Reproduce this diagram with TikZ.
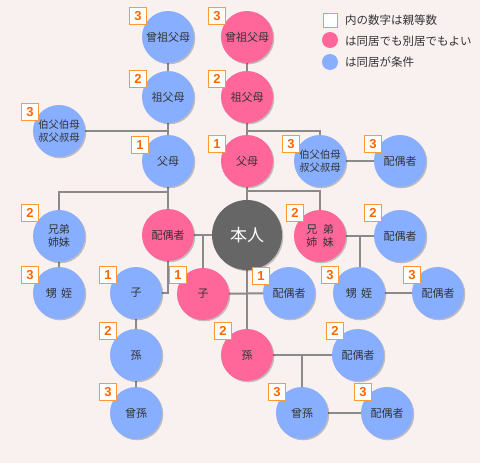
\documentclass[tikz,border=0pt]{standalone}
\usepackage{fontspec}
\newfontfamily\jp{Noto Sans CJK JP}
\newfontfamily\numfont{Liberation Sans}
\usetikzlibrary{shadows}
\definecolor{bgc}{HTML}{F9F0F0}
\definecolor{pinkc}{HTML}{FF6699}
\definecolor{bluec}{HTML}{88AEFF}
\definecolor{darkc}{HTML}{666666}
\definecolor{linec}{HTML}{8A8A8A}
\definecolor{orangeb}{HTML}{FF9933}
\definecolor{oranget}{HTML}{FF6600}
\definecolor{txtc}{HTML}{333333}
\pgfdeclarelayer{bg}
\pgfdeclarelayer{lines}
\pgfsetlayers{bg,lines,main}
\begin{document}
\begin{tikzpicture}[x=1pt,y=-1pt,
  person/.style={circle, minimum size=52pt, inner sep=0pt, text=txtc,
    font=\jp\fontsize{11}{13}\selectfont, align=center,
    drop shadow={shadow xshift=1.3pt, shadow yshift=-1.3pt, opacity=0.22, fill=black}},
  pk/.style={person, fill=pinkc},
  bl/.style={person, fill=bluec},
  small/.style={font=\jp\fontsize{10.3}{12.5}\selectfont},
  selfnode/.style={person, fill=darkc, minimum size=70pt, text=white,
    font=\jp\fontsize{17}{17}\selectfont},
  badge/.style={draw=orangeb, fill=white, line width=1.3pt, minimum size=17pt,
    inner sep=0pt, text=oranget, font=\numfont\bfseries\fontsize{13}{13}\selectfont},
  conn/.style={draw=linec, line width=2pt},
  legtext/.style={anchor=west, inner sep=0pt, text=txtc, font=\jp\fontsize{11.5}{13}\selectfont},
  legdot/.style={circle, minimum size=16pt, inner sep=0pt}
]
\begin{pgfonlayer}{bg}
\fill[bgc] (0,0) rectangle (480,463);
\end{pgfonlayer}
\useasboundingbox (0,0) rectangle (480,463);

% persons
\node[bl] (bsofu) at (168,37) {曾祖父母};
\node[pk] (psofu) at (247,37) {曾祖父母};
\node[bl] (bsobo) at (168,97) {祖父母};
\node[pk] (psobo) at (247,97) {祖父母};
\node[bl, small] (luncle) at (59,131) {伯父伯母\\叔父叔母};
\node[bl] (bfubo) at (168,161) {父母};
\node[pk] (pfubo) at (247,161) {父母};
\node[bl, small] (runcle) at (320,161) {伯父伯母\\叔父叔母};
\node[bl] (runclesp) at (400,161) {配偶者};
\node[bl] (lsib) at (59,236) {兄弟\\姉妹};
\node[pk] (spouse) at (168,235) {配偶者};
\node[selfnode] (honnin) at (247,235) {本人};
\node[pk] (rsib) at (320,236) {兄\hspace{0.5em}弟\\姉\hspace{0.5em}妹};
\node[bl] (sibsp) at (400,236) {配偶者};
\node[bl] (lneph) at (59,293) {甥\hspace{0.4em}姪};
\node[bl] (bchild) at (136,293) {子};
\node[pk] (pchild) at (203,294) {子};
\node[bl] (childsp) at (289,293) {配偶者};
\node[bl] (rneph) at (359,293) {甥\hspace{0.4em}姪};
\node[bl] (nephsp) at (438,293) {配偶者};
\node[bl] (bgchild) at (136,355) {孫};
\node[pk] (pgchild) at (247,355) {孫};
\node[bl] (gchildsp) at (358,355) {配偶者};
\node[bl] (bggchild) at (136,413) {曾孫};
\node[bl] (rggchild) at (302,413) {曾孫};
\node[bl] (ggchildsp) at (387,413) {配偶者};

% junction coordinates
\coordinate (j1) at (247,131);
\coordinate (j2) at (168,192);
\coordinate (j3) at (247,191);
\coordinate (j4) at (203,235);
\coordinate (j5) at (360,236);
\coordinate (j6) at (302,355);

% connectors
\begin{pgfonlayer}{lines}
\draw[conn] (bsofu) -- (bsobo) -- (bfubo) -- (spouse);
\draw[conn] (luncle) -- (luncle -| bsobo);
\draw[conn] (psofu) -- (psobo) -- (pfubo) -- (honnin);
\draw[conn] (j1) -| (runcle);
\draw[conn] (runcle) -- (runclesp);
\draw[conn] (j2) -| (lsib);
\draw[conn] (j3) -| (rsib);
\draw[conn] (lsib) -- (lneph);
\draw[conn] (spouse) -- (honnin);
\draw[conn] (j4) -- (j4 |- pchild);
\draw[conn] (spouse) |- (bchild);
\draw[conn] (bchild) -- (bgchild) -- (bggchild);
\draw[conn] (pchild) -- (childsp);
\draw[conn] (honnin) -- (pgchild);
\draw[conn] (rsib) -- (sibsp);
\draw[conn] (j5) -- (j5 |- rneph);
\draw[conn] (rneph) -- (nephsp);
\draw[conn] (pgchild) -- (gchildsp);
\draw[conn] (j6) -- (rggchild);
\draw[conn] (rggchild) -- (ggchildsp);
\end{pgfonlayer}

% degree badges
\node[badge] (d1) at (138,16) {3};
\node[badge] (d2) at (217,16) {3};
\node[badge] (d3) at (138,79) {2};
\node[badge] (d4) at (217,79) {2};
\node[badge] (d5) at (30,112) {3};
\node[badge] (d6) at (140,145) {1};
\node[badge] (d7) at (217,144) {1};
\node[badge] (d8) at (291,144) {3};
\node[badge] (d9) at (373,144) {3};
\node[badge] (d10) at (30,213) {2};
\node[badge] (d11) at (295,213) {2};
\node[badge] (d12) at (373,213) {2};
\node[badge] (d13) at (30,275) {3};
\node[badge] (d14) at (108,275) {1};
\node[badge] (d15) at (178,275) {1};
\node[badge] (d16) at (261,276) {1};
\node[badge] (d17) at (330,275) {3};
\node[badge] (d18) at (412,275) {3};
\node[badge] (d19) at (108,331) {2};
\node[badge] (d20) at (223,331) {2};
\node[badge] (d21) at (335,331) {2};
\node[badge] (d22) at (108,392) {3};
\node[badge] (d23) at (277,392) {3};
\node[badge] (d24) at (363,392) {3};

% legend
\node[draw=orangeb, fill=white, line width=1pt, minimum size=14pt, inner sep=0pt] (lsq) at (330,20) {};
\node[legtext] (lt1) at (345,20) {内の数字は親等数};
\node[legdot, fill=pinkc] (lpk) at (330,40) {};
\node[legtext] (lt2) at (345,41) {は同居でも別居でもよい};
\node[legdot, fill=bluec] (lbl) at (330,62) {};
\node[legtext] (lt3) at (345,62) {は同居が条件};
\end{tikzpicture}
\end{document}
